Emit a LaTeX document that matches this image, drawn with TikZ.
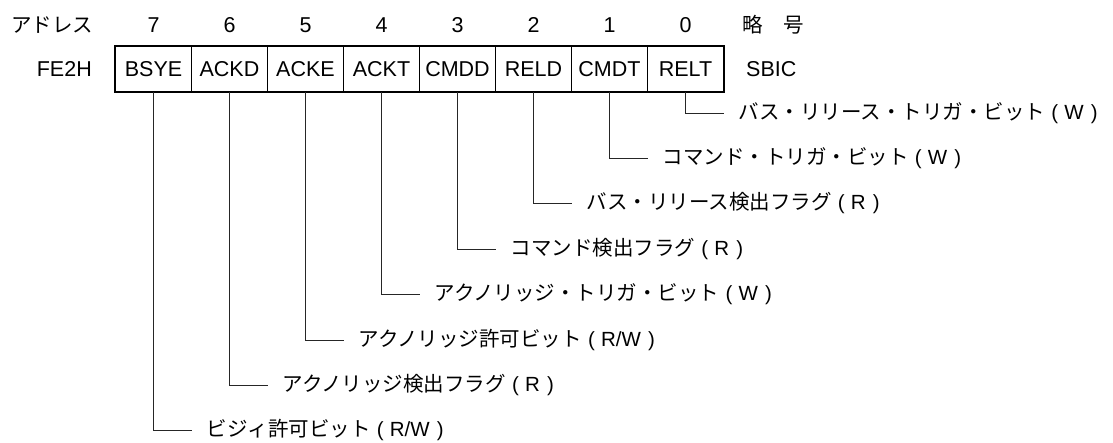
\documentclass[tikz,border=0pt]{standalone}
\usepackage{fontspec}
\setmainfont{Liberation Sans}
\newfontfamily\jp{Noto Sans CJK JP}
\newcommand{\pr}[1]{{\normalfont\hspace{0.3em}(\hspace{0.3em}#1\hspace{0.35em})}}
\begin{document}
\begin{tikzpicture}[x=1pt,y=-1pt,
  cell/.style={draw, line width=0.8pt, minimum width=76pt, minimum height=45pt, inner sep=0pt, font=\fontsize{21.5}{25}\selectfont},
  lbl/.style={anchor=west, inner sep=0pt, font=\jp\fontsize{20.5}{24}\selectfont},
  conn/.style={line width=0.9pt, draw=black!85},
  txt/.style={inner sep=0pt, font=\fontsize{21.5}{25}\selectfont},
  jtxt/.style={inner sep=0pt, font=\jp\fontsize{20.5}{24}\selectfont}]
\useasboundingbox (0,0) rectangle (1113,443);
% register cells
\foreach \b/\nm in {7/BSYE,6/ACKD,5/ACKE,4/ACKT,3/CMDD,2/RELD,1/CMDT,0/RELT}{
  \node[cell] (b\b) at ({153.5+76*(7-\b)},69) {\nm};
  \node[txt] (n\b) at ({153.5+76*(7-\b)},25) {\b};
}
\draw[line width=2.2pt] (b7.north west) rectangle (b0.south east);
% headings
\node[jtxt, anchor=west] (addr) at (11,25) {アドレス};
\node[jtxt, anchor=west] (ryaku) at (742,25) {略　号};
\node[txt, anchor=east] (fe2h) at (92,69) {FE2H};
\node[txt, anchor=west] (sbic) at (746,69) {SBIC};
% labels
\foreach \b/\yy/\t in {
  0/113/{バス・リリース・トリガ・ビット\pr{W}},
  1/158/{コマンド・トリガ・ビット\pr{W}},
  2/203.5/{バス・リリース検出フラグ\pr{R}},
  3/249/{コマンド検出フラグ\pr{R}},
  4/294.5/{アクノリッジ・トリガ・ビット\pr{W}},
  5/340/{アクノリッジ許可ビット\pr{R/W}},
  6/385/{アクノリッジ検出フラグ\pr{R}},
  7/430/{ビジィ許可ビット\pr{R/W}}}{
  \node[lbl] (l\b) at ({153.5+76*(7-\b)+53},\yy) {\t};
  \draw[conn] (b\b.south) |- ([xshift=-15pt]l\b.west);
}
\end{tikzpicture}
\end{document}
